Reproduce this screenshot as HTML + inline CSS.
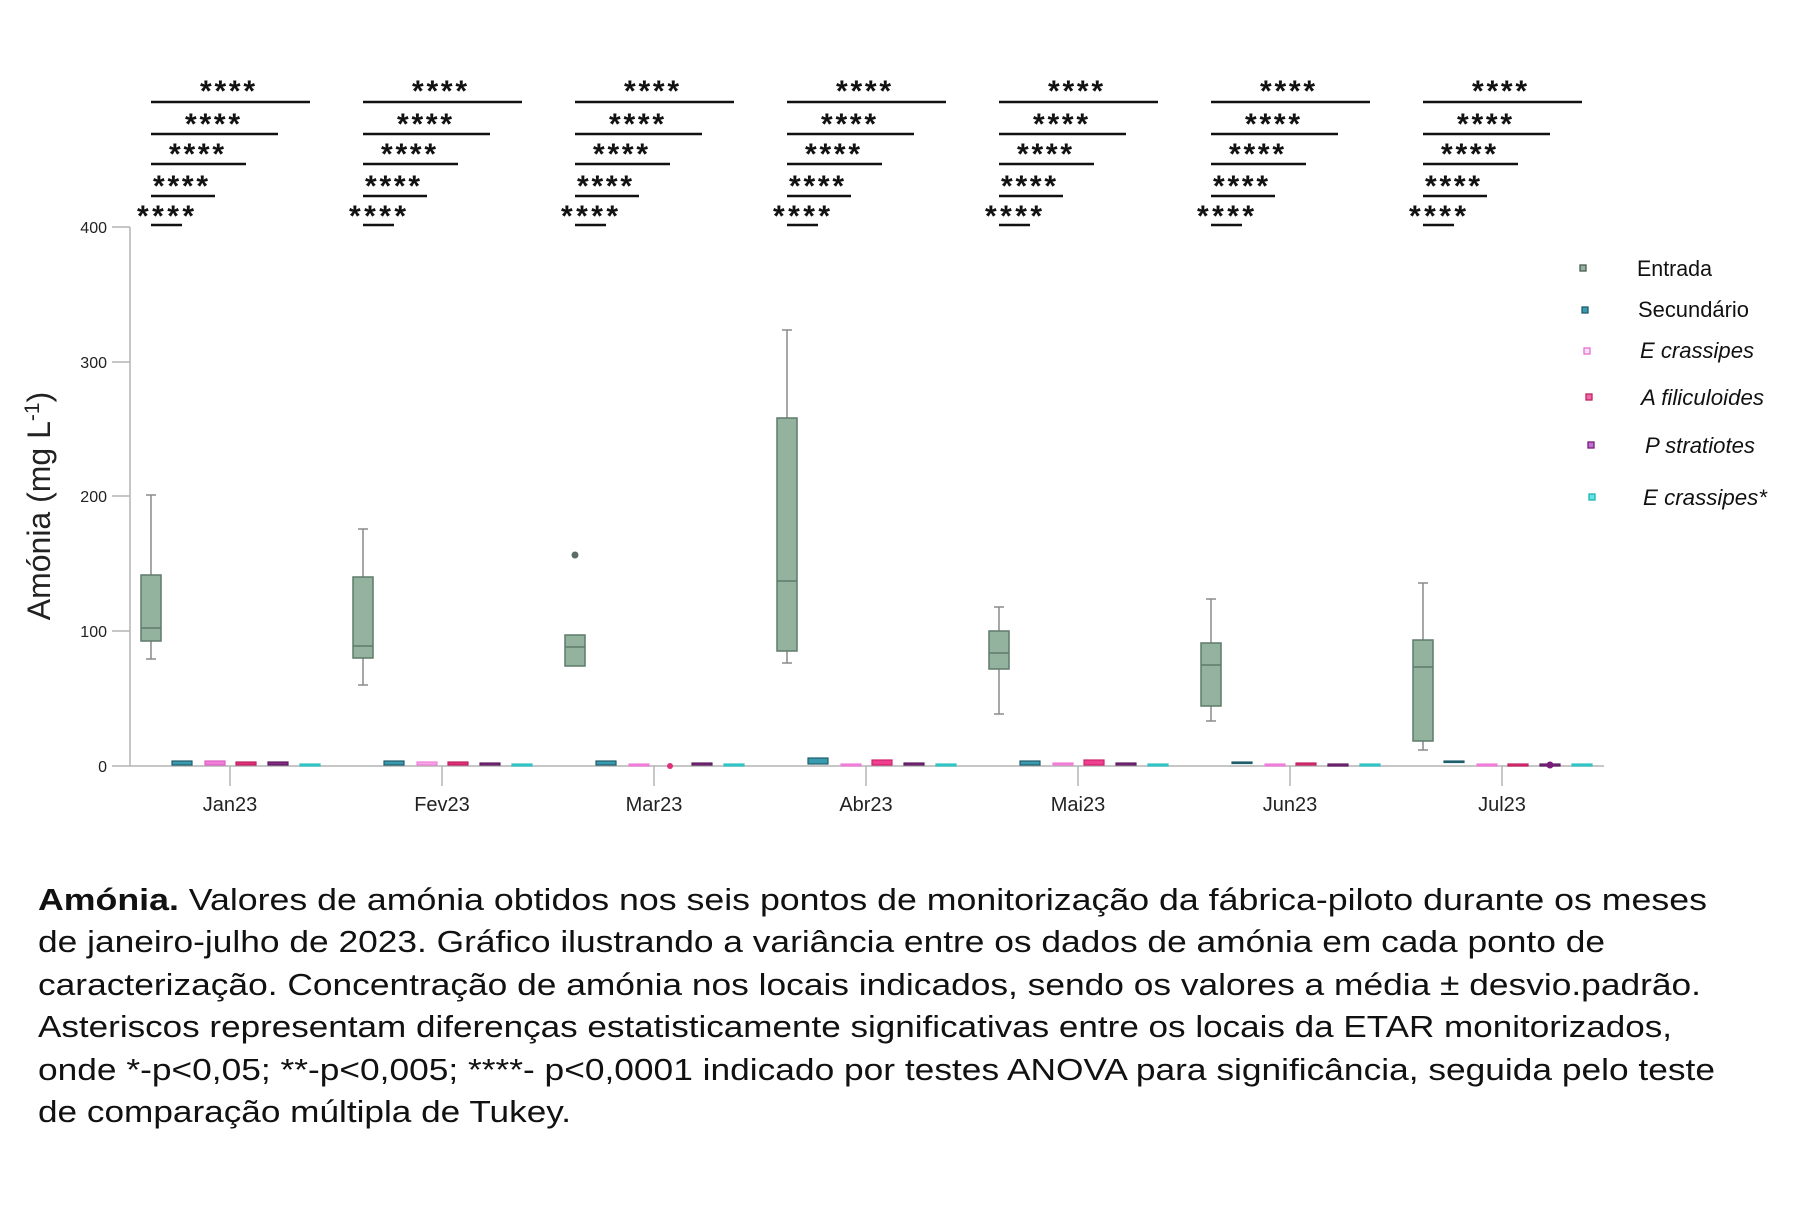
<!DOCTYPE html>
<html><head><meta charset="utf-8"><style>
html,body{margin:0;padding:0;background:#fff;}
svg{display:block;}
text{font-family:"Liberation Sans",Arial,sans-serif;}
</style></head><body>
<svg width="1800" height="1207" viewBox="0 0 1800 1207" xmlns="http://www.w3.org/2000/svg">
<rect width="1800" height="1207" fill="#fff"/>
<g stroke="#b4b4b4" stroke-width="1.5" fill="none">
<line x1="130" y1="227" x2="130" y2="766"/>
<line x1="130" y1="766" x2="1604" y2="766"/>
<line x1="112" y1="227" x2="130" y2="227"/>
<line x1="112" y1="362" x2="130" y2="362"/>
<line x1="112" y1="496" x2="130" y2="496"/>
<line x1="112" y1="631" x2="130" y2="631"/>
<line x1="112" y1="766" x2="130" y2="766"/>
<line x1="230" y1="766" x2="230" y2="786"/>
<line x1="442" y1="766" x2="442" y2="786"/>
<line x1="654" y1="766" x2="654" y2="786"/>
<line x1="866" y1="766" x2="866" y2="786"/>
<line x1="1078" y1="766" x2="1078" y2="786"/>
<line x1="1290" y1="766" x2="1290" y2="786"/>
<line x1="1502" y1="766" x2="1502" y2="786"/>
</g>
<g font-size="16" fill="#222" text-anchor="end">
<text x="107" y="233">400</text>
<text x="107" y="368">300</text>
<text x="107" y="502">200</text>
<text x="107" y="637">100</text>
<text x="107" y="772">0</text>
</g>
<g font-size="20" fill="#222" text-anchor="middle">
<text x="230" y="811">Jan23</text>
<text x="442" y="811">Fev23</text>
<text x="654" y="811">Mar23</text>
<text x="866" y="811">Abr23</text>
<text x="1078" y="811">Mai23</text>
<text x="1290" y="811">Jun23</text>
<text x="1502" y="811">Jul23</text>
</g>
<text transform="translate(50,506) rotate(-90)" font-size="32" fill="#222" text-anchor="middle">Amónia (mg L<tspan baseline-shift="super" font-size="21">-1</tspan>)</text>

<g fill="#93b39e" stroke="#5f7a6a" stroke-width="1.5">
<line x1="151" y1="495" x2="151" y2="659" stroke="#8a8a8a"/><line x1="146" y1="495" x2="156" y2="495" stroke="#8a8a8a"/><line x1="146" y1="659" x2="156" y2="659" stroke="#8a8a8a"/>
<rect x="141" y="575" width="20" height="66"/><line x1="141" y1="628" x2="161" y2="628"/>
<line x1="363" y1="529" x2="363" y2="685" stroke="#8a8a8a"/><line x1="358" y1="529" x2="368" y2="529" stroke="#8a8a8a"/><line x1="358" y1="685" x2="368" y2="685" stroke="#8a8a8a"/>
<rect x="353" y="577" width="20" height="81"/><line x1="353" y1="646" x2="373" y2="646"/>
<circle cx="575" cy="555" r="3.5" fill="#5a6e66" stroke="none"/>
<rect x="565" y="635" width="20" height="31"/><line x1="565" y1="647" x2="585" y2="647"/>
<line x1="787" y1="330" x2="787" y2="663" stroke="#8a8a8a"/><line x1="782" y1="330" x2="792" y2="330" stroke="#8a8a8a"/><line x1="782" y1="663" x2="792" y2="663" stroke="#8a8a8a"/>
<rect x="777" y="418" width="20" height="233"/><line x1="777" y1="581" x2="797" y2="581"/>
<line x1="999" y1="607" x2="999" y2="714" stroke="#8a8a8a"/><line x1="994" y1="607" x2="1004" y2="607" stroke="#8a8a8a"/><line x1="994" y1="714" x2="1004" y2="714" stroke="#8a8a8a"/>
<rect x="989" y="631" width="20" height="38"/><line x1="989" y1="653" x2="1009" y2="653"/>
<line x1="1211" y1="599" x2="1211" y2="721" stroke="#8a8a8a"/><line x1="1206" y1="599" x2="1216" y2="599" stroke="#8a8a8a"/><line x1="1206" y1="721" x2="1216" y2="721" stroke="#8a8a8a"/>
<rect x="1201" y="643" width="20" height="63"/><line x1="1201" y1="665" x2="1221" y2="665"/>
<line x1="1423" y1="583" x2="1423" y2="750" stroke="#8a8a8a"/><line x1="1418" y1="583" x2="1428" y2="583" stroke="#8a8a8a"/><line x1="1418" y1="750" x2="1428" y2="750" stroke="#8a8a8a"/>
<rect x="1413" y="640" width="20" height="101"/><line x1="1413" y1="667" x2="1433" y2="667"/>
</g>

<g stroke-width="1.2">
<rect x="172" y="761" width="20" height="4" fill="#3a9bb0" stroke="#1f5e6c"/>
<rect x="205" y="761" width="20" height="4" fill="#f07fd8" stroke="#e060c8"/>
<rect x="236" y="762" width="20" height="3" fill="#e0307a" stroke="#c02060"/>
<rect x="268" y="762" width="20" height="3" fill="#8a2a8a" stroke="#5a1a5a"/>
<rect x="300" y="764" width="20" height="2" fill="#30c8c8" stroke="#30c0c0"/>
<rect x="384" y="761" width="20" height="4" fill="#3a9bb0" stroke="#1f5e6c"/>
<rect x="417" y="762" width="20" height="3" fill="#f6a8e6" stroke="#f07fd8"/>
<rect x="448" y="762" width="20" height="3" fill="#e0307a" stroke="#c02060"/>
<rect x="480" y="763" width="20" height="2" fill="#8a2a8a" stroke="#5a1a5a"/>
<rect x="512" y="764" width="20" height="2" fill="#30c8c8" stroke="#30c0c0"/>
<rect x="596" y="761" width="20" height="4" fill="#3a9bb0" stroke="#1f5e6c"/>
<rect x="629" y="764" width="20" height="2" fill="#f07fd8" stroke="#f07fd8"/>
<circle cx="670" cy="766" r="3" fill="#e0307a"/>
<rect x="692" y="763" width="20" height="2" fill="#8a2a8a" stroke="#5a1a5a"/>
<rect x="724" y="764" width="20" height="2" fill="#30c8c8" stroke="#30c0c0"/>
<rect x="808" y="758" width="20" height="6" fill="#3a9bb0" stroke="#1f5e6c"/>
<rect x="841" y="764" width="20" height="2" fill="#f07fd8" stroke="#f07fd8"/>
<rect x="872" y="760" width="20" height="5" fill="#ef3f8f" stroke="#d02070"/>
<rect x="904" y="763" width="20" height="2" fill="#8a2a8a" stroke="#5a1a5a"/>
<rect x="936" y="764" width="20" height="2" fill="#30c8c8" stroke="#30c0c0"/>
<rect x="1020" y="761" width="20" height="4" fill="#3a9bb0" stroke="#1f5e6c"/>
<rect x="1053" y="763" width="20" height="2" fill="#f07fd8" stroke="#f07fd8"/>
<rect x="1084" y="760" width="20" height="5" fill="#ef3f8f" stroke="#d02070"/>
<rect x="1116" y="763" width="20" height="2" fill="#8a2a8a" stroke="#5a1a5a"/>
<rect x="1148" y="764" width="20" height="2" fill="#30c8c8" stroke="#30c0c0"/>
<rect x="1232" y="762" width="20" height="1.5" fill="#1f5e6c" stroke="#1f5e6c"/>
<rect x="1265" y="764" width="20" height="2" fill="#f07fd8" stroke="#f07fd8"/>
<rect x="1296" y="763" width="20" height="2" fill="#e0307a" stroke="#c02060"/>
<rect x="1328" y="764" width="20" height="2" fill="#8a2a8a" stroke="#5a1a5a"/>
<rect x="1360" y="764" width="20" height="2" fill="#30c8c8" stroke="#30c0c0"/>
<rect x="1444" y="761" width="20" height="1.5" fill="#1f5e6c" stroke="#1f5e6c"/>
<rect x="1477" y="764" width="20" height="2" fill="#f07fd8" stroke="#f07fd8"/>
<rect x="1508" y="764" width="20" height="2" fill="#e0307a" stroke="#c02060"/>
<rect x="1540" y="764" width="20" height="2" fill="#8a2a8a" stroke="#5a1a5a"/>
<circle cx="1550" cy="765" r="3.5" fill="#7a1a7a"/>
<rect x="1572" y="764" width="20" height="2" fill="#30c8c8" stroke="#30c0c0"/>
</g>

<defs>
<g id="sig">
<g stroke="#111" stroke-width="2.5">
<line x1="0" y1="225" x2="31" y2="225"/>
<line x1="0" y1="196" x2="64" y2="196"/>
<line x1="0" y1="164" x2="95" y2="164"/>
<line x1="0" y1="134" x2="127" y2="134"/>
<line x1="0" y1="102" x2="159" y2="102"/>
</g>
<g font-size="30" font-weight="bold" fill="#111">
<text x="-14" y="226" textLength="57" lengthAdjust="spacing">****</text>
<text x="2" y="196" textLength="55" lengthAdjust="spacing">****</text>
<text x="18" y="164" textLength="55" lengthAdjust="spacing">****</text>
<text x="34" y="134" textLength="55" lengthAdjust="spacing">****</text>
<text x="49" y="101" textLength="55" lengthAdjust="spacing">****</text>
</g>
</g>
</defs>
<use href="#sig" x="151" y="0"/>
<use href="#sig" x="363" y="0"/>
<use href="#sig" x="575" y="0"/>
<use href="#sig" x="787" y="0"/>
<use href="#sig" x="999" y="0"/>
<use href="#sig" x="1211" y="0"/>
<use href="#sig" x="1423" y="0"/>

<g stroke-width="1.3">
<rect x="1580" y="265" width="6" height="6" fill="#93b39e" stroke="#4a5a50"/>
<rect x="1582" y="307" width="6" height="6" fill="#3a9bb0" stroke="#1f5e6c"/>
<rect x="1584" y="348" width="6" height="6" fill="#fbe0f6" stroke="#e070d0"/>
<rect x="1586" y="394" width="6" height="6" fill="#f06aa8" stroke="#c02060"/>
<rect x="1588" y="442" width="6" height="6" fill="#c070d0" stroke="#7a1a7a"/>
<rect x="1589" y="494" width="6" height="6" fill="#60e8e8" stroke="#20b0b0"/>
</g>
<g font-size="22" fill="#111">
<text x="1637" y="276" textLength="75" lengthAdjust="spacingAndGlyphs">Entrada</text>
<text x="1638" y="317" textLength="111" lengthAdjust="spacingAndGlyphs">Secundário</text>
<text x="1640" y="358" textLength="114" lengthAdjust="spacingAndGlyphs" font-style="italic">E crassipes</text>
<text x="1641" y="405" textLength="123" lengthAdjust="spacingAndGlyphs" font-style="italic">A filiculoides</text>
<text x="1645" y="453" textLength="110" lengthAdjust="spacingAndGlyphs" font-style="italic">P stratiotes</text>
<text x="1643" y="505" textLength="124" lengthAdjust="spacingAndGlyphs" font-style="italic">E crassipes*</text>
</g>

<g font-size="31" fill="#111">
<text x="38" y="910" textLength="1669" lengthAdjust="spacingAndGlyphs"><tspan font-weight="bold">Amónia.</tspan> Valores de amónia obtidos nos seis pontos de monitorização da fábrica-piloto durante os meses</text>
<text x="38" y="952" textLength="1567" lengthAdjust="spacingAndGlyphs">de janeiro-julho de 2023. Gráfico ilustrando a variância entre os dados de amónia em cada ponto de</text>
<text x="38" y="995" textLength="1663" lengthAdjust="spacingAndGlyphs">caracterização. Concentração de amónia nos locais indicados, sendo os valores a média ± desvio.padrão.</text>
<text x="38" y="1037" textLength="1634" lengthAdjust="spacingAndGlyphs">Asteriscos representam diferenças estatisticamente significativas entre os locais da ETAR monitorizados,</text>
<text x="38" y="1080" textLength="1677" lengthAdjust="spacingAndGlyphs">onde *-p&lt;0,05; **-p&lt;0,005; ****- p&lt;0,0001 indicado por testes ANOVA para significância, seguida pelo teste</text>
<text x="38" y="1122" textLength="533" lengthAdjust="spacingAndGlyphs">de comparação múltipla de Tukey.</text>
</g>
</svg>
</body></html>
